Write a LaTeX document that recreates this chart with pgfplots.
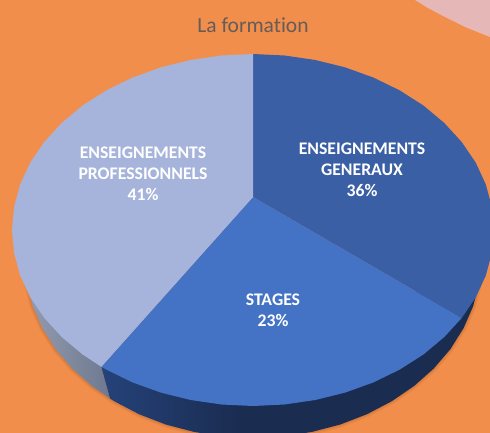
\documentclass[border=0pt]{standalone}
\usepackage{pgfplots}
\pgfplotsset{compat=1.18}
\usepackage{fontspec}
\setmainfont[Ligatures=NoCommon]{Carlito}
\definecolor{bgor}{HTML}{F28E4B}
\definecolor{pinkc}{HTML}{E5B7B7}
\definecolor{topd}{HTML}{3A5FA5}
\definecolor{topm}{HTML}{4472C4}
\definecolor{topl}{HTML}{A6B4DC}
\definecolor{wallgA}{HTML}{939BAF}
\definecolor{wallgB}{HTML}{6E798F}
\definecolor{walldA}{HTML}{25427A}
\definecolor{walldB}{HTML}{1A2C50}
\definecolor{shadowc}{HTML}{B0652F}
\definecolor{titlec}{HTML}{655C58}
\begin{document}
\begin{tikzpicture}
\begin{axis}[
  width=490pt,height=433pt,scale only axis,
  xmin=0,xmax=490,ymin=0,ymax=433,y dir=reverse,
  hide axis,clip=true]
% background
\addplot[fill=bgor,draw=none] coordinates {(-5,-5)(495,-5)(495,438)(-5,438)} -- cycle;
% pink disc in the corner
\addplot[fill=pinkc,draw=none] coordinates {(405,-8)(415,0)(428,8)(445,17)(465,27)(480,33)(490,37)(500,40)(500,-8)} -- cycle;
% soft shadow under the wall
\addplot[draw=shadowc,opacity=.18,line width=6pt] coordinates {(479,283.2)(473.2,306.1)(463.6,328.1)(450.5,349)(433.9,368.4)(414.2,385.9)(391.8,401.2)(367,414.2)(340.3,424.5)(312,431.9)(282.8,436.5)(253,438)(223.2,436.5)(194,431.9)(165.7,424.5)(139,414.2)(114.2,401.2)(91.8,385.9)(72.1,368.4)(55.5,349)(42.4,328.1)(32.8,306.1)(27,283.2)};
\addplot[draw=shadowc,opacity=.25,line width=3pt] coordinates {(479,283.2)(473.2,306.1)(463.6,328.1)(450.5,349)(433.9,368.4)(414.2,385.9)(391.8,401.2)(367,414.2)(340.3,424.5)(312,431.9)(282.8,436.5)(253,438)(223.2,436.5)(194,431.9)(165.7,424.5)(139,414.2)(114.2,401.2)(91.8,385.9)(72.1,368.4)(55.5,349)(42.4,328.1)(32.8,306.1)(27,283.2)};
% walls
\addplot[draw=none,left color=wallgA,right color=wallgB] coordinates {(27,283.2)(32.8,306.1)(42.4,328.1)(55.5,349)(72.1,368.4)(91.8,385.9)(110,398.5)(101.3,366.8)(101.3,283.2)} -- cycle;
\addplot[draw=none,left color=walldA,right color=walldB] coordinates {(101.3,366.8)(110,398.5)(114.2,401.2)(139,414.2)(165.7,424.5)(194,431.9)(223.2,436.5)(240,437.6)(240,350)} -- cycle;
\addplot[fill=walldB,draw=none] coordinates {(239.5,350)(239.5,437.6)(253,438)(282.8,436.5)(312,431.9)(340.3,424.5)(367,414.2)(391.8,401.2)(414.2,385.9)(433.9,368.4)(450.5,349)(463.6,328.1)(473.2,306.1)(479,283.2)(440,283.2)} -- cycle;
% top: ENSEIGNEMENTS GENERAUX 36
\addplot[fill=topd,draw=none] coordinates {(253,197)(253,54)(284.5,55.5)(315.4,60)(345.2,67.4)(373.5,77.6)(399.7,90.4)(423.4,105.5)(444.2,122.9)(461.7,142)(475.7,162.6)(485.8,184.4)(491.9,207)(494,230)(491.9,253)(485.8,275.6)(475.7,297.4)(461.7,318)} -- cycle;
% top: STAGES 23
\addplot[fill=topm,draw=none] coordinates {(253,197)(461.7,318)(444.2,337.1)(423.4,354.5)(399.7,369.6)(373.5,382.4)(345.2,392.6)(315.4,400)(284.5,404.5)(253,406)(221.5,404.5)(190.6,400)(160.8,392.6)(132.5,382.4)(106.3,369.6)(101.3,366.8)} -- cycle;
% top: ENSEIGNEMENTS PROFESSIONNELS 41
\addplot[fill=topl,draw=none] coordinates {(253,197)(101.3,366.8)(82.6,354.5)(61.8,337.1)(44.3,318)(30.3,297.4)(20.2,275.6)(14.1,253)(12,230)(14.1,207)(20.2,184.4)(30.3,162.6)(44.3,142)(61.8,122.9)(82.6,105.5)(106.3,90.4)(132.5,77.6)(160.8,67.4)(190.6,60)(221.5,55.5)(253,54)} -- cycle;
% texts
\node[text=titlec,font=\fontsize{21.5}{25}\selectfont] at (axis cs:253,25) {La formation};
\tikzset{lab/.style={text=white,font=\fontsize{17.7}{21}\selectfont\bfseries,align=center,anchor=center}}
\node[lab] at (axis cs:362,170) {ENSEIGNEMENTS\\GENERAUX\\36\%};
\node[lab] at (axis cs:143,174) {ENSEIGNEMENTS\\PROFESSIONNELS\\41\%};
\node[lab] at (axis cs:273,310.5) {STAGES\\23\%};
\end{axis}
\end{tikzpicture}
\end{document}
